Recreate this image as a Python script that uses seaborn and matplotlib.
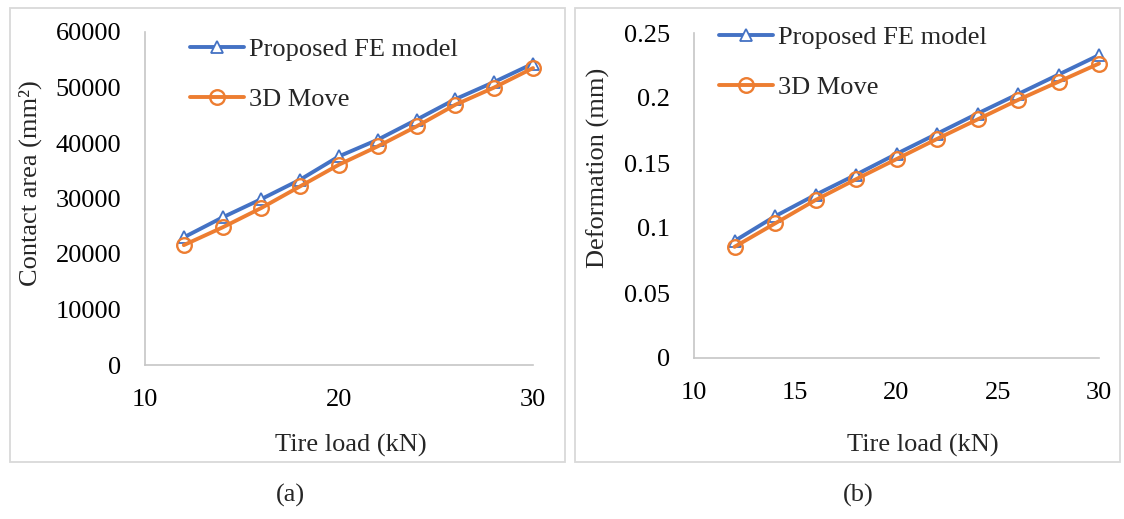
import matplotlib
matplotlib.use("Agg")
import matplotlib.pyplot as plt
import seaborn as sns
import pandas as pd
from matplotlib.patches import Rectangle
from matplotlib.ticker import FuncFormatter

tire_load = [12, 14, 16, 18, 20, 22, 24, 26, 28, 30]
area_fe = [23000, 26600, 29900, 33400, 37600, 40600, 44200, 47900, 51000, 54300]
area_3d = [21600, 24800, 28300, 32200, 36100, 39400, 43000, 46900, 50000, 53500]
def_fe = [0.090, 0.109, 0.1255, 0.141, 0.157, 0.1725, 0.188, 0.203, 0.218, 0.233]
def_3d = [0.0855, 0.1035, 0.1215, 0.1375, 0.153, 0.1685, 0.1835, 0.1985, 0.2125, 0.2265]
series_names = ["Proposed FE model", "3D Move"]
area_yticks = [0, 10000, 20000, 30000, 40000, 50000, 60000]
def_yticks = [0, 0.05, 0.1, 0.15, 0.2, 0.25]
area_xticks = [10, 20, 30]
def_xticks = [10, 15, 20, 25, 30]

BLUE = "#4472C4"
ORANGE = "#ED7D31"
SPINE = "#C6C6C6"

sns.set_style("white")
plt.rcParams["font.family"] = ["Liberation Serif", "DejaVu Serif"]
FS = 19

W, H = 1124, 519
fig = plt.figure(figsize=(W / 100, H / 100), dpi=100)

# panel borders
for (x0, x1) in [(10, 565), (575, 1120)]:
    fig.add_artist(Rectangle((x0 / W, 1 - 462 / H), (x1 - x0) / W, (462 - 8) / H,
                             transform=fig.transFigure, fill=False,
                             edgecolor="#D9D9D9", linewidth=1.3))

axA = fig.add_axes([145 / W, 1 - 365 / H, (533 - 145) / W, (365 - 32) / H])
axB = fig.add_axes([694 / W, 1 - 358 / H, (1099 - 694) / W, (358 - 33) / H])

dfA = pd.DataFrame({"x": tire_load, "fe": area_fe, "d3": area_3d})
dfB = pd.DataFrame({"x": tire_load, "fe": def_fe, "d3": def_3d})

for ax, df in [(axA, dfA), (axB, dfB)]:
    sns.lineplot(data=df, x="x", y="fe", ax=ax, color=BLUE, linewidth=2.8,
                 marker="^", markersize=8.5, markerfacecolor="white",
                 markeredgecolor=BLUE, markeredgewidth=1.3, label=series_names[0],
                 clip_on=False)
    sns.lineplot(data=df, x="x", y="d3", ax=ax, color=ORANGE, linewidth=2.8,
                 marker="o", markersize=10.5, markerfacecolor="none",
                 markeredgecolor=ORANGE, markeredgewidth=1.7, label=series_names[1],
                 clip_on=False)

axA.set_xlim(10, 30)
axA.set_ylim(0, 60000)
axA.set_xticks(area_xticks)
axA.set_yticks(area_yticks)
axB.set_xlim(10, 30)
axB.set_ylim(0, 0.25)
axB.set_xticks(def_xticks)
axB.set_yticks(def_yticks)
axB.yaxis.set_major_formatter(FuncFormatter(lambda v, p: f"{v:g}"))

for ax in (axA, axB):
    for s in ["top", "right"]:
        ax.spines[s].set_visible(False)
    for s in ["left", "bottom"]:
        ax.spines[s].set_color(SPINE)
        ax.spines[s].set_linewidth(1.2)
    ax.tick_params(axis="both", length=0, labelsize=FS, colors="black")
    ax.tick_params(axis="x", pad=17)
    ax.tick_params(axis="y", pad=17)
    ax.set_facecolor("none")

axA.set_xlabel("Tire load (kN)", fontsize=FS, va="center")
axA.xaxis.set_label_coords((351 - 145) / (533 - 145), (365 - 445) / (365 - 32))
axA.set_ylabel("Contact area (mm²)", fontsize=FS, va="center")
axA.yaxis.set_label_coords((30 - 145) / (533 - 145), (365 - 183) / (365 - 32))

axB.set_xlabel("Tire load (kN)", fontsize=FS, va="center")
axB.xaxis.set_label_coords((923 - 694) / (1099 - 694), (358 - 445) / (358 - 33))
axB.set_ylabel("Deformation (mm)", fontsize=FS, va="center")
axB.yaxis.set_label_coords((598 - 694) / (1099 - 694), (358 - 168) / (358 - 33))

legkw = dict(frameon=False, fontsize=FS, loc="upper left", handlelength=2.05,
             handletextpad=0.2, labelspacing=1.0, borderpad=0, borderaxespad=0)
axA.legend(bbox_to_anchor=(190 / W, 1 - 38 / H), bbox_transform=fig.transFigure, **legkw)
axB.legend(bbox_to_anchor=(719 / W, 1 - 26 / H), bbox_transform=fig.transFigure, **legkw)

fig.text(290 / W, 1 - 495 / H, "(a)", fontsize=FS, ha="center", va="center")
fig.text(858 / W, 1 - 495 / H, "(b)", fontsize=FS, ha="center", va="center")

fig.savefig("out.png", dpi=100, facecolor="white")
